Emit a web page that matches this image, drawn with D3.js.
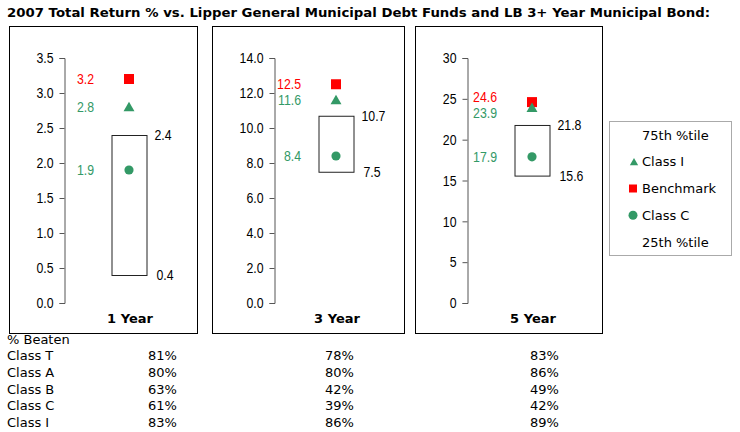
<!DOCTYPE html>
<html><head><meta charset="utf-8">
<script src="https://cdn.jsdelivr.net/npm/d3@7"></script>
<style>
html,body{margin:0;padding:0;background:#fff;}
svg{display:block;}
</style></head>
<body>
<svg id="chart" width="740" height="432"></svg>
<script>
// ---- data ----
const title = "2007 Total Return % vs. Lipper General Municipal Debt Funds and LB 3+ Year Municipal Bond:";
const categories = ["1 Year", "3 Year", "5 Year"];
const benchmark = [3.2, 12.5, 24.6];
const classI = [2.8, 11.6, 23.9];
const classC = [1.9, 8.4, 17.9];
const pct75 = [2.4, 10.7, 21.8];
const pct25 = [0.4, 7.5, 15.6];
const yMax = [3.5, 14, 30];
const yStep = [0.5, 2, 5];
const tickFormats = [".1f", ".1f", "d"];
const legendLabels = ["75th %tile", "Class I", "Benchmark", "Class C", "25th %tile"];
const beatenHeader = "% Beaten";
const beatenClasses = ["Class T", "Class A", "Class B", "Class C", "Class I"];
const beaten1Y = [81, 80, 63, 61, 83];
const beaten3Y = [78, 80, 42, 39, 86];
const beaten5Y = [83, 86, 49, 42, 89];

// ---- layout ----
const RED = "#ff0000", GREEN = "#339966";
const SANS = "'Liberation Sans',Arial,sans-serif";
const VERD = "'DejaVu Sans',Verdana,sans-serif";
const panels = [
  {left: 9, right: 197, axisX: 64, markX: 129},
  {left: 212, right: 404, axisX: 274, markX: 336},
  {left: 415, right: 602, axisX: 467, markX: 532}
];
const frameTop = 26, frameBottom = 333, yTop = 58, yBot = 303, boxHalf = 17.5;

const svg = d3.select("#chart");

// condensed look: Liberation Sans squeezed horizontally
function narrow(sel) {
  sel.attr("font-family", SANS).attr("font-size", 15);
  sel.each(function () {
    const len = this.getComputedTextLength();
    d3.select(this).attr("textLength", len * 0.82).attr("lengthAdjust", "spacingAndGlyphs");
  });
  return sel;
}

svg.append("text").attr("x", 7).attr("y", 17)
  .attr("font-family", VERD).attr("font-weight", "bold").attr("font-size", 13)
  .attr("textLength", 703).attr("lengthAdjust", "spacingAndGlyphs")
  .text(title);

categories.forEach((cat, i) => {
  const p = panels[i];
  const g = svg.append("g");
  g.append("rect").attr("x", p.left + 0.5).attr("y", frameTop + 0.5)
    .attr("width", p.right - p.left).attr("height", frameBottom - frameTop)
    .attr("fill", "none").attr("stroke", "#000").attr("stroke-width", 1);
  const y = d3.scaleLinear().domain([0, yMax[i]]).range([yBot, yTop]);
  const ticks = d3.range(0, yMax[i] + yStep[i] / 2, yStep[i]);
  const ax = g.append("g").attr("transform", `translate(${p.axisX + 0.5},0)`)
    .call(d3.axisLeft(y).tickValues(ticks).tickFormat(d3.format(tickFormats[i]))
      .tickSizeOuter(0).tickSize(5).tickPadding(6));
  ax.select(".domain").attr("stroke", "#555");
  ax.selectAll(".tick line").attr("stroke", "#555");
  narrow(ax.selectAll(".tick text").attr("fill", "#000"));

  // percentile box
  const bx = p.markX - boxHalf;
  g.append("rect").attr("x", bx + 0.5).attr("y", y(pct75[i]) + 0.5)
    .attr("width", boxHalf * 2).attr("height", y(pct25[i]) - y(pct75[i]))
    .attr("fill", "none").attr("stroke", "#222").attr("stroke-width", 1);
  narrow(g.append("text").attr("x", p.markX + boxHalf + 8).attr("y", y(pct75[i]) + 5)
    .text(d3.format(".1f")(pct75[i])));
  narrow(g.append("text").attr("x", p.markX + boxHalf + 10).attr("y", y(pct25[i]) + 5)
    .text(d3.format(".1f")(pct25[i])));

  // markers
  g.append("path").attr("d", d3.symbol(d3.symbolCircle, 66)())
    .attr("transform", `translate(${p.markX},${y(classC[i])})`).attr("fill", GREEN);
  g.append("rect").attr("x", p.markX - 5).attr("y", y(benchmark[i]) - 5)
    .attr("width", 10).attr("height", 10).attr("fill", RED);
  g.append("path").attr("d", d3.symbol(d3.symbolTriangle, 52)())
    .attr("transform", `translate(${p.markX},${y(classI[i]) + 1})`).attr("fill", GREEN);

  // value labels with simple collision avoidance
  const labs = [
    {v: benchmark[i], c: RED},
    {v: classI[i], c: GREEN},
    {v: classC[i], c: GREEN}
  ].map(d => ({...d, y: y(d.v)})).sort((a, b) => a.y - b.y);
  const minGap = 16;
  for (let k = 1; k < labs.length; k++) {
    const gap = labs[k].y - labs[k - 1].y;
    if (gap < minGap) {
      const mid = (labs[k].y + labs[k - 1].y) / 2;
      labs[k - 1].y = mid - minGap / 2; labs[k].y = mid + minGap / 2;
    }
  }
  labs.forEach(d => {
    narrow(g.append("text").attr("x", p.markX - 35).attr("y", d.y + 5)
      .attr("text-anchor", "end").attr("fill", d.c).text(d3.format(".1f")(d.v)));
  });

  g.append("text").attr("x", p.markX + 1).attr("y", 323).attr("text-anchor", "middle")
    .attr("font-family", VERD).attr("font-weight", "bold").attr("font-size", 13)
    .text(cat);
});

// legend
const lg = svg.append("g");
lg.append("rect").attr("x", 609.5).attr("y", 121.5).attr("width", 122).attr("height", 134)
  .attr("fill", "none").attr("stroke", "#555").attr("stroke-dasharray", "1,1");
const legY = d3.scalePoint().domain(legendLabels).range([135, 242]);
legendLabels.forEach((lab) => {
  lg.append("text").attr("x", 642).attr("y", legY(lab) + 4.5)
    .attr("font-family", VERD).attr("font-size", 13).text(lab);
});
lg.append("path").attr("d", d3.symbol(d3.symbolTriangle, 30)())
  .attr("transform", `translate(634,${legY("Class I") + 1})`).attr("fill", GREEN);
lg.append("rect").attr("x", 629).attr("y", legY("Benchmark") - 4)
  .attr("width", 8).attr("height", 8).attr("fill", RED);
lg.append("circle").attr("cx", 633).attr("cy", legY("Class C")).attr("r", 4.5).attr("fill", GREEN);

// % Beaten table
const tb = svg.append("g").attr("font-family", VERD).attr("font-size", 13);
tb.append("text").attr("x", 7).attr("y", 344).text(beatenHeader);
const rowY = d3.scalePoint().domain(beatenClasses).range([360, 427]);
const colX = [148, 325, 530];
const cols = [beaten1Y, beaten3Y, beaten5Y];
beatenClasses.forEach((c, r) => {
  tb.append("text").attr("x", 7).attr("y", rowY(c)).text(c);
  cols.forEach((arr, j) => {
    tb.append("text").attr("x", colX[j]).attr("y", rowY(c)).text(arr[r] + "%");
  });
});
</script>
</body></html>
